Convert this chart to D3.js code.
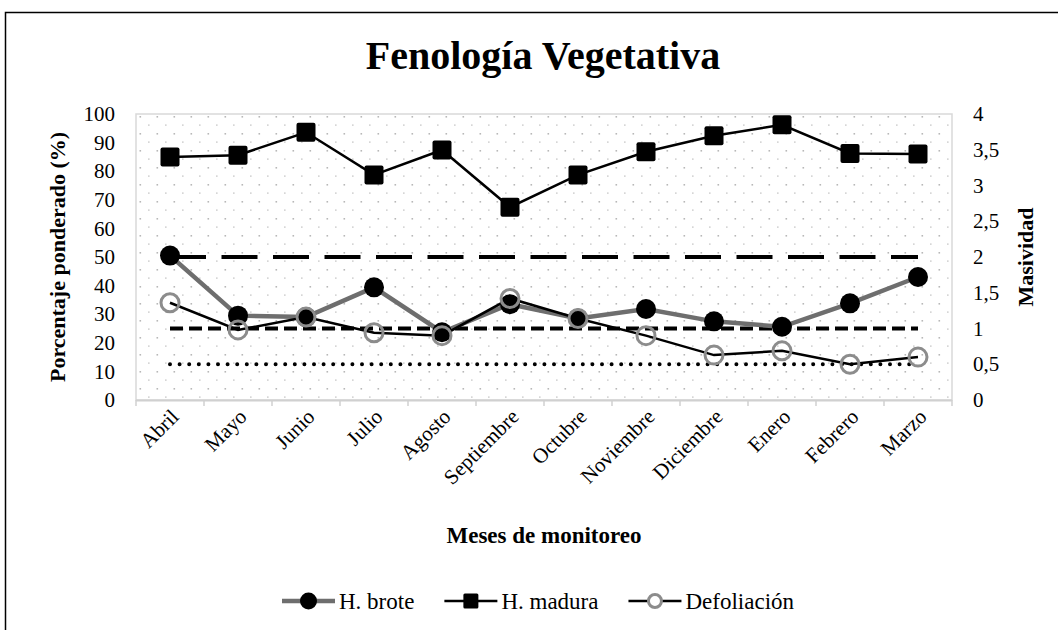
<!DOCTYPE html>
<html>
<head>
<meta charset="utf-8">
<script src="https://cdn.jsdelivr.net/npm/d3@7"></script>
<style>
  body { margin: 0; background: #fff; }
  text { font-family: "Liberation Serif", "Times New Roman", serif; fill: #000; }
</style>
</head>
<body>
<div id="chart"></div>
<script>
// data
var months = ["Abril", "Mayo", "Junio", "Julio", "Agosto", "Septiembre", "Octubre",
              "Noviembre", "Diciembre", "Enero", "Febrero", "Marzo"];
var hBrote  = [50.5, 29.5, 29, 39.4, 23.7, 33.5, 28.5, 31.8, 27.5, 25.6, 33.8, 43];
var hMadura = [85, 85.6, 93.6, 78.7, 87.4, 67.4, 78.7, 86.8, 92.4, 96.2, 86.2, 86];
var defoliacion = [34, 24.5, 29, 23.5, 22.5, 35.5, 28.5, 22.5, 15.7, 17.2, 12.5, 15];
var masividadRefs = [2, 1, 0.5];          // reference lines on the right axis
var leftTicks = d3.range(0, 101, 10);
var rightTicks = d3.range(0, 4.01, 0.5);
var legendNames = ["H. brote", "H. madura", "Defoliación"];

var W = 1058, H = 630;
var plot = {left: 136, right: 952, top: 114, bottom: 400};

var svg = d3.select("#chart").append("svg")
    .attr("width", W)
    .attr("height", H);

// outer frame (runs off the right and bottom edge)
svg.append("rect")
    .attr("x", 5.5).attr("y", 12.5)
    .attr("width", W + 20).attr("height", H + 20)
    .attr("fill", "#fff")
    .attr("stroke", "#000")
    .attr("stroke-width", 1.5);

// dotted plot-area fill
var defs = svg.append("defs");
var pat = defs.append("pattern")
    .attr("id", "dots")
    .attr("patternUnits", "userSpaceOnUse")
    .attr("x", plot.left).attr("y", plot.top)
    .attr("width", 17).attr("height", 17);
pat.append("rect").attr("x", 3.5).attr("y", 2).attr("width", 1.6).attr("height", 1.6).attr("fill", "#b8b8b8");
pat.append("rect").attr("x", 12).attr("y", 10.5).attr("width", 1.6).attr("height", 1.2).attr("fill", "#c4c4c4");

var x = d3.scaleBand()
    .domain(months)
    .range([plot.left, plot.right]);
var cx = function(i) { return x(months[i]) + x.bandwidth() / 2; };

var y = d3.scaleLinear().domain([0, 100]).range([plot.bottom, plot.top]);
var y2 = d3.scaleLinear().domain([0, 4]).range([plot.bottom, plot.top]);

svg.append("rect")
    .attr("x", plot.left).attr("y", plot.top)
    .attr("width", plot.right - plot.left)
    .attr("height", plot.bottom - plot.top)
    .attr("fill", "url(#dots)")
    .attr("stroke", "#d9d9d9")
    .attr("stroke-width", 1.5);

// bottom axis line + ticks at the band edges
svg.append("line")
    .attr("x1", plot.left).attr("x2", plot.right)
    .attr("y1", plot.bottom + 0.5).attr("y2", plot.bottom + 0.5)
    .attr("stroke", "#d0d0d0").attr("stroke-width", 2);
svg.selectAll("line.xtick")
    .data(d3.range(months.length + 1))
    .enter().append("line")
    .attr("class", "xtick")
    .attr("x1", function(i) { return plot.left + i * x.step(); })
    .attr("x2", function(i) { return plot.left + i * x.step(); })
    .attr("y1", plot.bottom)
    .attr("y2", plot.bottom + 6)
    .attr("stroke", "#d0d0d0").attr("stroke-width", 1.5);

// month labels
svg.selectAll("text.month")
    .data(months)
    .enter().append("text")
    .attr("class", "month")
    .attr("text-anchor", "end")
    .attr("font-size", 21)
    .attr("transform", function(d, i) {
        return "translate(" + (cx(i) + 10) + "," + 418 + ") rotate(-45)";
    })
    .text(function(d) { return d; });

// left axis
var axL = svg.append("g")
    .attr("transform", "translate(" + plot.left + ",0)")
    .call(d3.axisLeft(y).tickValues(leftTicks).tickSize(0).tickPadding(21));
axL.select(".domain").remove();
axL.selectAll("text").attr("font-size", 21).attr("font-family", "Liberation Serif");

// right axis
var axR = svg.append("g")
    .attr("transform", "translate(" + plot.right + ",0)")
    .call(d3.axisRight(y2).tickValues(rightTicks).tickSize(0).tickPadding(21)
        .tickFormat(function(d) { return String(d).replace(".", ","); }));
axR.select(".domain").remove();
axR.selectAll("text").attr("font-size", 21).attr("font-family", "Liberation Serif");

// reference lines (masividad)
var refStyles = [
    {dash: "36,15.5", cap: "butt"},
    {dash: "13,6", cap: "butt"},
    {dash: "0,9.6", cap: "round"}
];
svg.selectAll("line.ref")
    .data(masividadRefs)
    .enter().append("line")
    .attr("class", "ref")
    .attr("x1", cx(0)).attr("x2", cx(months.length - 1))
    .attr("y1", function(d) { return y2(d); })
    .attr("y2", function(d) { return y2(d); })
    .attr("stroke", "#000")
    .attr("stroke-width", 4)
    .attr("stroke-dasharray", function(d, i) { return refStyles[i].dash; })
    .attr("stroke-linecap", function(d, i) { return refStyles[i].cap; });

var line = d3.line()
    .x(function(d, i) { return cx(i); })
    .y(function(d) { return y(d); });

// H. brote
svg.append("path")
    .datum(hBrote)
    .attr("d", line)
    .attr("fill", "none")
    .attr("stroke", "#6e6e6e")
    .attr("stroke-width", 4.5);
svg.selectAll("circle.brote")
    .data(hBrote)
    .enter().append("circle")
    .attr("class", "brote")
    .attr("cx", function(d, i) { return cx(i); })
    .attr("cy", function(d) { return y(d); })
    .attr("r", 10)
    .attr("fill", "#000");

// H. madura
svg.append("path")
    .datum(hMadura)
    .attr("d", line)
    .attr("fill", "none")
    .attr("stroke", "#000")
    .attr("stroke-width", 2.5);
svg.selectAll("rect.madura")
    .data(hMadura)
    .enter().append("rect")
    .attr("class", "madura")
    .attr("x", function(d, i) { return cx(i) - 9.5; })
    .attr("y", function(d) { return y(d) - 9.5; })
    .attr("width", 19).attr("height", 19)
    .attr("rx", 2)
    .attr("fill", "#000");

// Defoliación
svg.append("path")
    .datum(defoliacion)
    .attr("d", line)
    .attr("fill", "none")
    .attr("stroke", "#000")
    .attr("stroke-width", 2.5);
svg.selectAll("circle.defol")
    .data(defoliacion)
    .enter().append("circle")
    .attr("class", "defol")
    .attr("cx", function(d, i) { return cx(i); })
    .attr("cy", function(d) { return y(d); })
    .attr("r", 9)
    .attr("fill", "none")
    .attr("stroke", "#8c8c8c")
    .attr("stroke-width", 3);

// titles
svg.append("text")
    .attr("x", 543).attr("y", 69)
    .attr("text-anchor", "middle")
    .attr("font-size", 40)
    .attr("font-weight", "bold")
    .text("Fenología Vegetativa");

svg.append("text")
    .attr("transform", "translate(65," + (plot.top + plot.bottom) / 2 + ") rotate(-90)")
    .attr("text-anchor", "middle")
    .attr("font-size", 22)
    .attr("font-weight", "bold")
    .text("Porcentaje ponderado (%)");

svg.append("text")
    .attr("transform", "translate(1033," + (plot.top + plot.bottom) / 2 + ") rotate(-90)")
    .attr("text-anchor", "middle")
    .attr("font-size", 22)
    .attr("font-weight", "bold")
    .text("Masividad");

svg.append("text")
    .attr("x", (plot.left + plot.right) / 2).attr("y", 543)
    .attr("text-anchor", "middle")
    .attr("font-size", 23)
    .attr("font-weight", "bold")
    .text("Meses de monitoreo");

// legend
var legY = 601;
var lx = 282;
legendNames.forEach(function(name, i) {
    var g = svg.append("g").attr("transform", "translate(" + lx + "," + legY + ")");
    g.append("line")
        .attr("x1", 0).attr("x2", 53)
        .attr("stroke", i === 0 ? "#6e6e6e" : "#000")
        .attr("stroke-width", i === 0 ? 4.5 : 2.5);
    if (i === 0) {
        g.append("circle").attr("cx", 26.5).attr("r", 8.5).attr("fill", "#000");
    } else if (i === 1) {
        g.append("rect").attr("x", 19).attr("y", -7.5).attr("width", 15).attr("height", 15)
            .attr("rx", 1.5).attr("fill", "#000");
    } else {
        g.append("circle").attr("cx", 26.5).attr("r", 6.5).attr("fill", "#fff")
            .attr("stroke", "#8c8c8c").attr("stroke-width", 3);
    }
    var t = g.append("text")
        .attr("x", 57).attr("y", 7.5)
        .attr("font-size", 23)
        .text(name);
    lx += 57 + t.node().getComputedTextLength() + 30;
});
</script>
</body>
</html>
